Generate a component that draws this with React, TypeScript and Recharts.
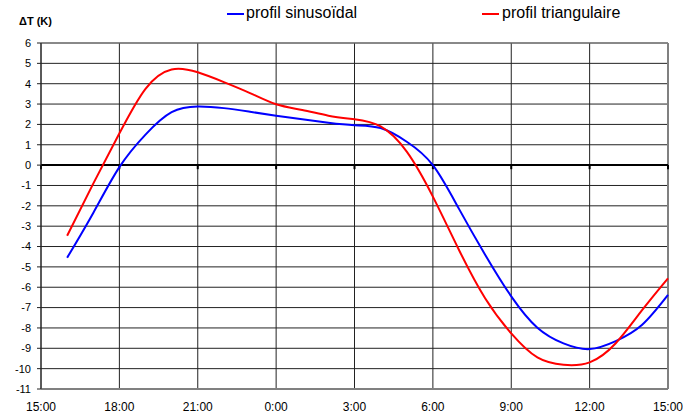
import {
  LineChart,
  Line,
  XAxis,
  YAxis,
  CartesianGrid,
  ReferenceLine,
} from "recharts";

// hours elapsed since 15:00
const hours = [1, 2, 3, 4, 5, 6, 7, 8, 9, 10, 11, 12, 13, 14, 15, 16, 17, 18, 19, 20, 21, 22, 23, 24];
const sinus = [
  -4.55, -2.35, -0.1, 1.5, 2.6, 2.88, 2.8, 2.62, 2.43, 2.25, 2.08, 1.96,
  1.82, 1.15, 0.0, -2.15, -4.4, -6.45, -7.99, -8.76, -9.04, -8.65, -7.86, -6.38,
];
const triang = [
  -3.47, -0.91, 1.56, 3.75, 4.7, 4.56, 4.08, 3.54, 2.99, 2.71, 2.43, 2.25,
  1.9, 0.66, -1.55, -4.17, -6.54, -8.27, -9.45, -9.81, -9.69, -8.75, -7.14, -5.56,
];
const xTicks = [0, 3, 6, 9, 12, 15, 18, 21, 24];
const xLabels = ["15:00", "18:00", "21:00", "0:00", "3:00", "6:00", "9:00", "12:00", "15:00"];
const yTicks = [6, 5, 4, 3, 2, 1, 0, -1, -2, -3, -4, -5, -6, -7, -8, -9, -10, -11];

const data = hours.map((h, i) => ({ h, sinus: sinus[i], triang: triang[i] }));

const font = "'Liberation Sans', Arial, sans-serif";

function LegendBox() {
  return (
    <div style={{ position: "absolute", left: 0, top: 0, height: 28, width: 683, fontFamily: font, fontSize: 16, zIndex: 2 }}>
      <div style={{ position: "absolute", left: 227, top: 13, width: 17, height: 2, background: "#0000ff" }} />
      <div style={{ position: "absolute", left: 246, top: 4 }}>profil sinusoïdal</div>
      <div style={{ position: "absolute", left: 482, top: 13, width: 17, height: 2, background: "#ff0000" }} />
      <div style={{ position: "absolute", left: 502, top: 4 }}>profil triangulaire</div>
    </div>
  );
}

export default function App() {
  return (
    <div style={{ position: "absolute", left: 0, top: 0, width: 683, height: 417, background: "#fff" }}>
      <LegendBox />
      <div
        style={{
          position: "absolute",
          left: 19,
          top: 15,
          fontFamily: font,
          fontSize: 11,
          fontWeight: "bold",
          zIndex: 2,
        }}
      >
        ΔT (K)
      </div>
      <LineChart
        width={683}
        height={417}
        data={data}
        margin={{ top: 43, right: 15, bottom: 0, left: 0 }}
      >
        <CartesianGrid stroke="#222" strokeWidth={1} fill="none" />
        <XAxis
          dataKey="h"
          type="number"
          domain={[0, 24]}
          ticks={xTicks}
          tickFormatter={(v) => xLabels[xTicks.indexOf(v)]}
          axisLine={{ stroke: "#808080", strokeWidth: 2 }}
          tickLine={false}
          tickSize={0}
          tickMargin={13}
          tick={{ fill: "#000", fontSize: 12, fontFamily: font }}
          height={28}
          interval={0}
        />
        <YAxis
          type="number"
          domain={[-11, 6]}
          ticks={yTicks}
          axisLine={{ stroke: "#222", strokeWidth: 1 }}
          tickLine={{ stroke: "#222" }}
          tickSize={4}
          tickMargin={6}
          tick={{ fill: "#000", fontSize: 11, fontFamily: font }}
          width={41}
          interval={0}
        />
        <ReferenceLine x={24} stroke="#808080" strokeWidth={2} />
        <ReferenceLine y={6} stroke="#808080" strokeWidth={1} />
        <ReferenceLine y={0} stroke="#000" strokeWidth={2} />
        {xTicks.map((t) => (
          <ReferenceLine
            key={t}
            segment={[
              { x: t, y: 0 },
              { x: t, y: -0.2 },
            ]}
            stroke="#000"
            strokeWidth={2}
          />
        ))}
        <Line
          type="natural"
          dataKey="sinus"
          stroke="#0000ff"
          strokeWidth={2}
          dot={false}
          isAnimationActive={false}
        />
        <Line
          type="natural"
          dataKey="triang"
          stroke="#ff0000"
          strokeWidth={2}
          dot={false}
          isAnimationActive={false}
        />
      </LineChart>
    </div>
  );
}
